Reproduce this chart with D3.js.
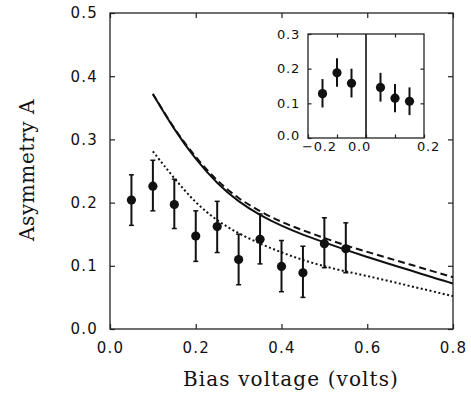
<!DOCTYPE html>
<html>
<head>
<meta charset="utf-8">
<script src="https://cdn.jsdelivr.net/npm/d3@7/dist/d3.min.js"></script>
<style>
  body { margin: 0; background: #fff; }
  svg { display: block; }
  .tick text { font-family: 'DejaVu Sans', sans-serif; fill: #111; }
  .title { font-family: 'DejaVu Serif', serif; fill: #111; }
</style>
</head>
<body>
<div id="chart"></div>
<script>
// main panel: measured points
const biasV = [0.05, 0.10, 0.15, 0.20, 0.25, 0.30, 0.35, 0.40, 0.45, 0.50, 0.55];
const asym = [0.204, 0.226, 0.197, 0.147, 0.162, 0.110, 0.142, 0.099, 0.089, 0.135, 0.127];
const asymLo = [0.164, 0.187, 0.159, 0.107, 0.121, 0.070, 0.103, 0.059, 0.050, 0.097, 0.089];
const asymHi = [0.244, 0.267, 0.237, 0.187, 0.202, 0.150, 0.182, 0.140, 0.131, 0.176, 0.168];

// model curves
const curveV = [0.10, 0.15, 0.20, 0.25, 0.30, 0.35, 0.40, 0.45, 0.50, 0.55, 0.60, 0.65, 0.70, 0.75, 0.80];
const solidA = [0.372, 0.315, 0.268, 0.230, 0.201, 0.180, 0.163, 0.149, 0.137, 0.125, 0.114, 0.103, 0.093, 0.082, 0.072];
const dashedA = [0.372, 0.316, 0.271, 0.234, 0.206, 0.186, 0.169, 0.156, 0.144, 0.132, 0.122, 0.112, 0.102, 0.092, 0.082];
const dottedA = [0.281, 0.238, 0.199, 0.171, 0.151, 0.135, 0.121, 0.109, 0.099, 0.091, 0.084, 0.076, 0.068, 0.060, 0.052];

// inset
const insetV = [-0.15, -0.10, -0.05, 0.05, 0.10, 0.15];
const insetA = [0.128, 0.188, 0.158, 0.146, 0.115, 0.106];
const insetLo = [0.088, 0.148, 0.117, 0.105, 0.074, 0.066];
const insetHi = [0.170, 0.230, 0.200, 0.188, 0.156, 0.146];

const xTicks = [0.0, 0.2, 0.4, 0.6, 0.8];
const yTicks = [0.0, 0.1, 0.2, 0.3, 0.4, 0.5];
const insetXTicks = [-0.2, 0.0, 0.2];
const insetYTicks = [0.0, 0.1, 0.2, 0.3];

const W = 471, H = 396;
const pad = { top: 13, right: 18, bottom: 67, left: 110 };
const w = W - pad.left - pad.right,
  h = H - pad.top - pad.bottom;

const svg = d3.select('#chart').append('svg')
  .attr('width', W)
  .attr('height', H);

const x = d3.scaleLinear().domain([0, 0.8]).range([0, w]);
const y = d3.scaleLinear().domain([0, 0.5]).range([h, 0]);

const g = svg.append('g')
  .attr('transform', 'translate(' + pad.left + ',' + pad.top + ')');

const fmt = d3.format('.1f');

// axes, ticks pointing inward
g.append('g')
  .attr('transform', 'translate(0,' + h + ')')
  .call(d3.axisBottom(x).tickValues(xTicks).tickSize(-5).tickPadding(13).tickFormat(fmt));
g.append('g')
  .call(d3.axisLeft(y).tickValues(yTicks).tickSize(-5).tickPadding(12).tickFormat(fmt));
g.append('g')
  .call(d3.axisTop(x).tickValues(xTicks).tickSize(-5).tickFormat(''));
g.append('g')
  .attr('transform', 'translate(' + w + ',0)')
  .call(d3.axisRight(y).tickValues(yTicks).tickSize(-5).tickFormat(''));

g.selectAll('.domain').remove();
g.selectAll('.tick line').attr('stroke', '#222').attr('stroke-width', 1.2);
g.selectAll('.tick text').attr('font-size', 15).attr('letter-spacing', 1.2);

g.append('rect')
  .attr('width', w)
  .attr('height', h)
  .attr('fill', 'none')
  .attr('stroke', '#222')
  .attr('stroke-width', 1.3);

// curves
const line = d3.line()
  .x(function (d) { return x(d[0]); })
  .y(function (d) { return y(d[1]); })
  .curve(d3.curveBasis);

function drawCurve(values, dash) {
  g.append('path')
    .datum(d3.zip(curveV, values))
    .attr('fill', 'none')
    .attr('stroke', '#111')
    .attr('stroke-width', 2)
    .attr('stroke-dasharray', dash)
    .attr('d', line);
}

drawCurve(dashedA, '7,4');
drawCurve(solidA, null);
drawCurve(dottedA, '2,2.5');

// data with error bars
const pts = g.append('g');
biasV.forEach(function (v, i) {
  pts.append('line')
    .attr('x1', x(v)).attr('x2', x(v))
    .attr('y1', y(asymLo[i])).attr('y2', y(asymHi[i]))
    .attr('stroke', '#111').attr('stroke-width', 2);
  [asymLo[i], asymHi[i]].forEach(function (e) {
    pts.append('line')
      .attr('x1', x(v) - 2.5).attr('x2', x(v) + 2.5)
      .attr('y1', y(e)).attr('y2', y(e))
      .attr('stroke', '#111').attr('stroke-width', 1.5);
  });
  pts.append('circle')
    .attr('cx', x(v)).attr('cy', y(asym[i]))
    .attr('r', 4.6)
    .attr('fill', '#111');
});

// axis titles
svg.append('text')
  .attr('class', 'title')
  .attr('x', 291)
  .attr('y', 386)
  .attr('text-anchor', 'middle')
  .attr('font-size', 20)
  .attr('letter-spacing', 1.1)
  .text('Bias voltage (volts)');

svg.append('text')
  .attr('class', 'title')
  .attr('transform', 'translate(34,170) rotate(-90)')
  .attr('text-anchor', 'middle')
  .attr('font-size', 20)
  .attr('letter-spacing', 0.6)
  .text('Asymmetry A');

// inset
const ib = { left: 308, top: 34, w: 116, h: 104 };
const ix = d3.scaleLinear().domain([-0.2, 0.2]).range([0, ib.w]);
const iy = d3.scaleLinear().domain([0, 0.3]).range([ib.h, 0]);

const ig = svg.append('g')
  .attr('transform', 'translate(' + ib.left + ',' + ib.top + ')');

ig.append('rect')
  .attr('width', ib.w)
  .attr('height', ib.h)
  .attr('fill', '#fff');

const ixAxis = ig.append('g')
  .attr('transform', 'translate(0,' + ib.h + ')')
  .call(d3.axisBottom(ix).tickValues([-0.2, -0.1, 0.0, 0.1, 0.2]).tickSize(-3.5).tickPadding(4)
    .tickFormat(function (d) { return insetXTicks.indexOf(d) >= 0 ? fmt(d) : ''; }));
// labels sit a little off their ticks in the original
ixAxis.selectAll('.tick text')
  .attr('dx', function (d) { return d < -0.15 ? 11 : (d === 0 ? -7 : (d > 0.15 ? 4 : 0)); });
const iyAxis = ig.append('g')
  .call(d3.axisLeft(iy).tickValues(insetYTicks).tickSize(-3.5).tickPadding(8).tickFormat(fmt));
iyAxis.selectAll('.tick text')
  .attr('dy', function (d) { return d === 0 ? '0.12em' : '0.32em'; });
ig.append('g')
  .call(d3.axisTop(ix).tickValues([-0.1, 0.1]).tickSize(-3.5).tickFormat(''));
ig.append('g')
  .attr('transform', 'translate(' + ib.w + ',0)')
  .call(d3.axisRight(iy).tickValues([0.1, 0.2]).tickSize(-3.5).tickFormat(''));

ig.selectAll('.domain').remove();
ig.selectAll('.tick line').attr('stroke', '#222').attr('stroke-width', 1.2);
ig.selectAll('.tick text').attr('font-size', 13).attr('letter-spacing', 0.8);

ig.append('rect')
  .attr('width', ib.w)
  .attr('height', ib.h)
  .attr('fill', 'none')
  .attr('stroke', '#222')
  .attr('stroke-width', 1.3);

ig.append('line')
  .attr('x1', ix(0)).attr('x2', ix(0))
  .attr('y1', 0).attr('y2', ib.h)
  .attr('stroke', '#111').attr('stroke-width', 1.6);

insetV.forEach(function (v, i) {
  ig.append('line')
    .attr('x1', ix(v)).attr('x2', ix(v))
    .attr('y1', iy(insetLo[i])).attr('y2', iy(insetHi[i]))
    .attr('stroke', '#111').attr('stroke-width', 2);
  ig.append('circle')
    .attr('cx', ix(v)).attr('cy', iy(insetA[i]))
    .attr('r', 4.6)
    .attr('fill', '#111');
});
</script>
</body>
</html>
